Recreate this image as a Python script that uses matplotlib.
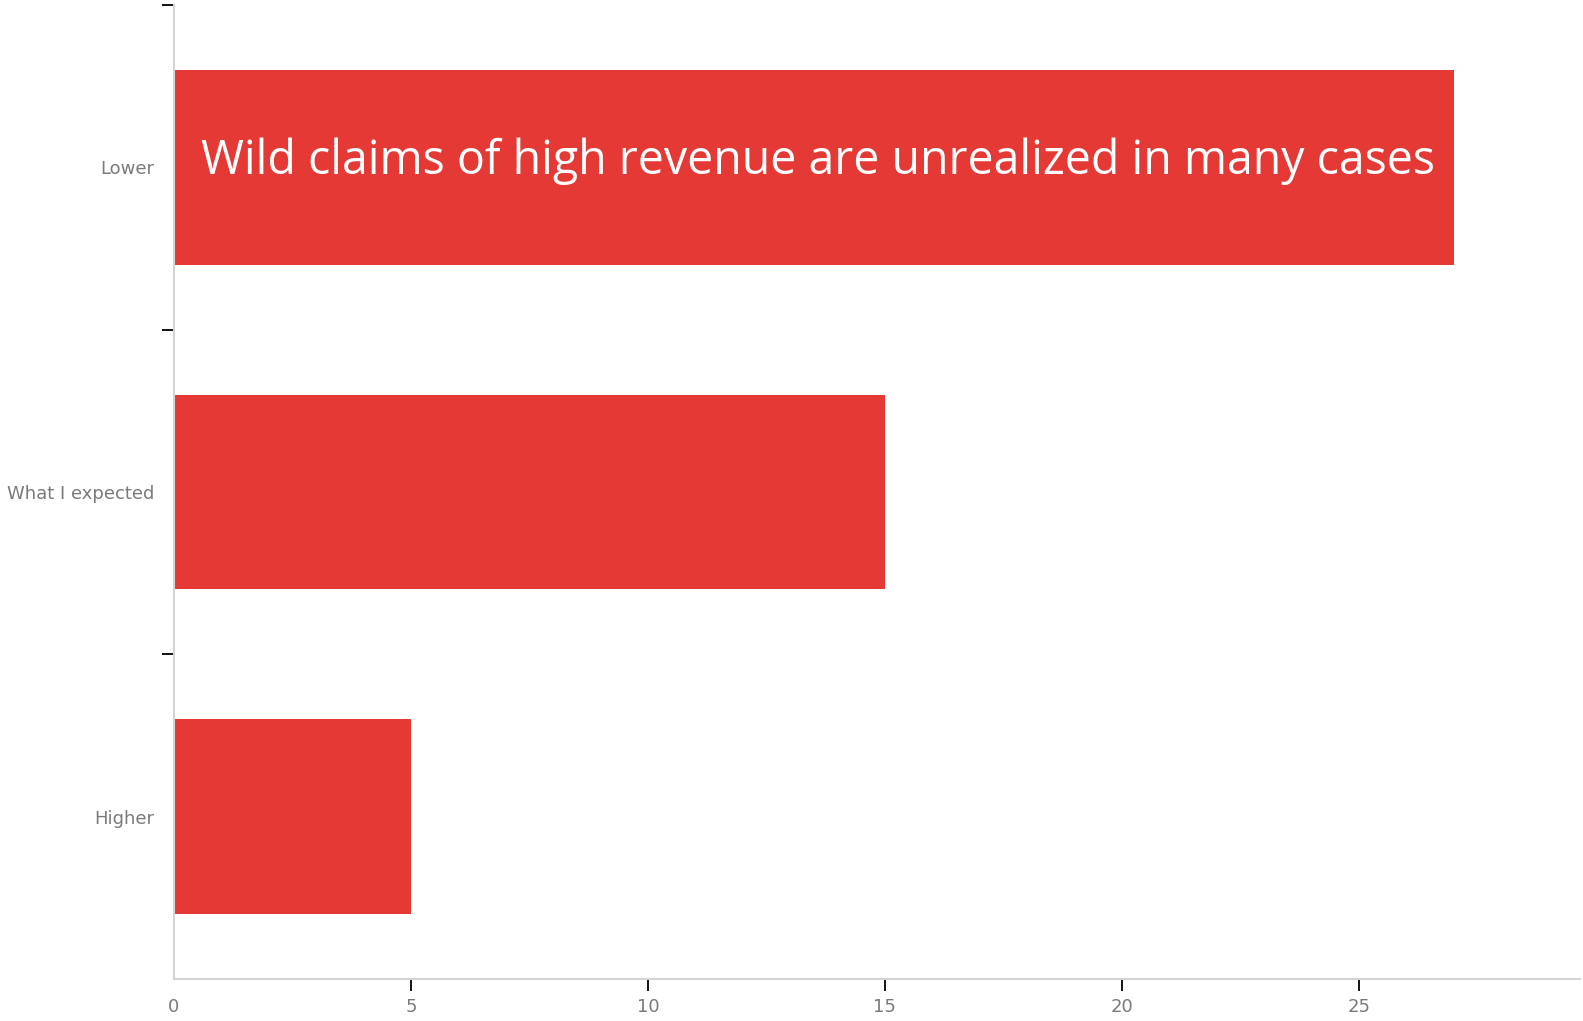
import numpy as np
import matplotlib.pyplot as plt
from matplotlib.ticker import FixedLocator

# Data
categories = ["Higher", "What I expected", "Lower"]
counts = [5, 15, 27]
x_ticks = [0, 5, 10, 15, 20, 25]
message = "Wild claims of high revenue are unrealized in many cases"

bar_color = "#E53935"
label_color = "#7a7a7a"
spine_color = "#d4d4d4"

fig = plt.figure(figsize=(15.83, 10.21), dpi=100)
ax = fig.add_axes([0.1099, 0.0411, 0.888, 0.954])

y = np.arange(len(categories))
ax.barh(y, counts, height=0.6, color=bar_color)

ax.set_xlim(0, 29.66)
ax.set_ylim(-0.5, len(categories) - 0.5)

ax.set_yticks(y)
ax.set_yticklabels(categories)
# ticks between the categories (and at the top)
ax.yaxis.set_minor_locator(FixedLocator(np.arange(0.5, len(categories) + 0.5, 1.0)))
ax.set_xticks(x_ticks)

for s in ["top", "right"]:
    ax.spines[s].set_visible(False)
for s in ["left", "bottom"]:
    ax.spines[s].set_color(spine_color)
    ax.spines[s].set_linewidth(1.5)

ax.tick_params(axis="y", which="major", length=0, pad=14, labelsize=13, labelcolor=label_color)
ax.tick_params(axis="y", which="minor", length=8.5, width=1.3, color="black")
ax.tick_params(axis="x", which="major", length=8.5, width=1.3, color="black",
               labelsize=13, labelcolor=label_color, pad=5)
# no tick mark at zero
ax.xaxis.get_major_ticks()[0].tick1line.set_visible(False)

ax.text(0.58, 2.018, message, color="white", fontsize=33.5, family="Open Sans",
        va="center", ha="left")

fig.savefig("out.png", dpi=100)
